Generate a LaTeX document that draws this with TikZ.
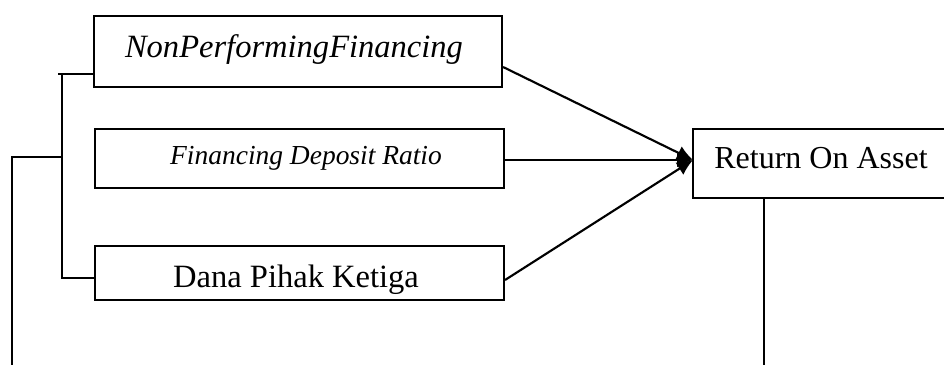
\documentclass[tikz,border=0pt]{standalone}
\usepackage{fontspec}
\setmainfont{Liberation Serif}
\usetikzlibrary{arrows.meta}
\tikzset{
  box/.style={draw, line width=0.8pt, rectangle, inner sep=0pt},
  conn/.style={line width=0.8pt},
  arr/.style={line width=0.8pt, -{Latex[length=6pt,width=5.5pt]}},
  lbl/.style={anchor=base, inner sep=0pt}
}
\begin{document}
\begin{tikzpicture}[x=0.375pt,y=-0.375pt]
\useasboundingbox (0,0) rectangle (944,365);
\clip (0,0) rectangle (944,365);
% boxes
\node[box, minimum width=408*0.375pt, minimum height=71*0.375pt] (npf) at (298,51.5) {};
\node[box, minimum width=409*0.375pt, minimum height=59*0.375pt] (fdr) at (299.5,158.5) {};
\node[box, minimum width=409*0.375pt, minimum height=54*0.375pt] (dpk) at (299.5,273) {};
\node[box, minimum width=300*0.375pt, minimum height=69*0.375pt] (roa) at (843,163.5) {};
% labels
\node[lbl] (tnpf) at (294,58) {\fontsize{12.2}{14}\selectfont\itshape NonPerformingFinancing};
\node[lbl] (tfdr) at (306,165) {\fontsize{10.3}{12}\selectfont\itshape Financing Deposit Ratio};
\node[lbl] (tdpk) at (296,288) {\fontsize{12.2}{14}\selectfont Dana Pihak Ketiga};
\node[lbl] (troa) at (821,169) {\fontsize{12}{14}\selectfont Return On Asset};
% coordinates
\coordinate (tip) at (693,160);
\coordinate (bt) at (62,74);
\coordinate (bb) at (62,278);
\coordinate (bm) at (62,157);
\coordinate (lm) at (12,157);
\coordinate (lb) at (12,365);
\coordinate (rb) at (764,365);
% arrows
\draw[arr] ([yshift=-15.5*0.375pt]npf.east) -- (tip);
\draw[arr] ([yshift=-1.5*0.375pt]fdr.east) -- (tip);
\draw[arr] ([yshift=-7*0.375pt]dpk.east) -- (tip);
% bracket
\draw[conn] ([xshift=-4*0.375pt]bt) -- (bt -| npf.west);
\draw[conn] (bt) -- (bb) -- (bb -| dpk.west);
\draw[conn] (bm) -- (lm) -- (lb);
\draw[conn] (roa.south -| rb) -- (rb);
\end{tikzpicture}
\end{document}
